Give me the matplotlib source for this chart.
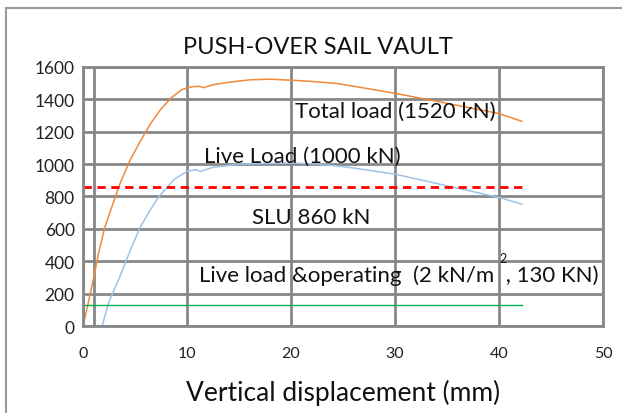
import numpy as np
import matplotlib
matplotlib.use("Agg")
import matplotlib.pyplot as plt
from matplotlib.patches import Rectangle

plt.rcParams['font.family'] = ['Lato', 'DejaVu Sans']

# total load curve (orange)
total_x = [0, 0.5, 1.0, 1.5, 2.1, 2.8, 3.5, 4.5, 5.5, 6.5, 7.5, 8.5, 9.5, 10.5, 11.2, 11.6,
           12.5, 14, 16, 18, 20, 22, 24.5, 27, 30, 34, 37, 40, 42.2]
total_y = [0, 140, 290, 450, 610, 740, 870, 1020, 1140, 1250, 1340, 1410, 1460, 1478, 1480, 1472,
           1490, 1505, 1520, 1524, 1518, 1510, 1497, 1470, 1437, 1388, 1350, 1312, 1264]

# live load curve (light blue)
live_x = [1.84, 2.5, 3.45, 4.5, 5.5, 6.5, 7.3, 8.8, 10, 10.8, 11.3, 12.5, 15, 20, 22.6,
          25, 30, 35, 40, 42.2]
live_y = [0, 150, 290, 460, 610, 720, 800, 907, 955, 965, 955, 980, 1000, 1006, 1000,
          985, 938, 866, 794, 753]

slu_value = 860
operating_value = 130
line_end = 42.2

fig = plt.figure(figsize=(6.22, 4.14), dpi=100)
ax = fig.add_axes([0.1334, 0.21, 0.836, 0.626])

grid_col = '#878787'
ax.set_xlim(0, 50)
ax.set_ylim(0, 1600)
ax.set_xticks(np.arange(0, 51, 10))
ax.set_yticks(np.arange(0, 1601, 200))
ax.grid(True, color=grid_col, linewidth=2)
ax.axvline(1.05, color=grid_col, linewidth=2)
for s in ax.spines.values():
    s.set_color(grid_col)
    s.set_linewidth(2)
ax.tick_params(length=0, labelsize=12, colors='#222222')
ax.tick_params(axis='y', pad=6, labelsize=12.5)
ax.tick_params(axis='x', pad=14, labelsize=11.5)
ax.set_axisbelow(True)

ax.plot(total_x, total_y, color='#F0893A', linewidth=1.1)
ax.plot(live_x, live_y, color='#9DC3E6', linewidth=1.1)
ax.plot([0, line_end], [slu_value, slu_value], color='#FF0000', linestyle=(0, (3, 2)), linewidth=2)
ax.plot([0, line_end], [operating_value, operating_value], color='#00B050', linewidth=1)

ax.text(20.4, 1327, 'Total load (1520 kN)', fontsize=16, va='center', color='#111111')
ax.text(11.6, 1050, 'Live Load (1000 kN)', fontsize=16, va='center', color='#111111')
ax.text(16.3, 673, 'SLU 860 kN', fontsize=16, va='center', color='#111111')
ax.text(11.2, 315, 'Live load &operating  (2 kN/m  , 130 KN)', fontsize=16, va='center', color='#111111')
ax.text(40.0, 420, '2', fontsize=9, va='center', color='#111111')

ax.set_xlabel('Vertical displacement (mm)', fontsize=19, labelpad=14, color='#111111')
fig.text(0.511, 0.886, 'PUSH-OVER SAIL VAULT', fontsize=17, ha='center', va='center', color='#111111')

fig.patches.append(Rectangle((6 / 622, -0.2), 1.2, 0.2 + 1 - 9 / 414, transform=fig.transFigure,
                             fill=False, edgecolor='#9a9a9a', linewidth=1.5))

fig.savefig('out.png', dpi=100)
